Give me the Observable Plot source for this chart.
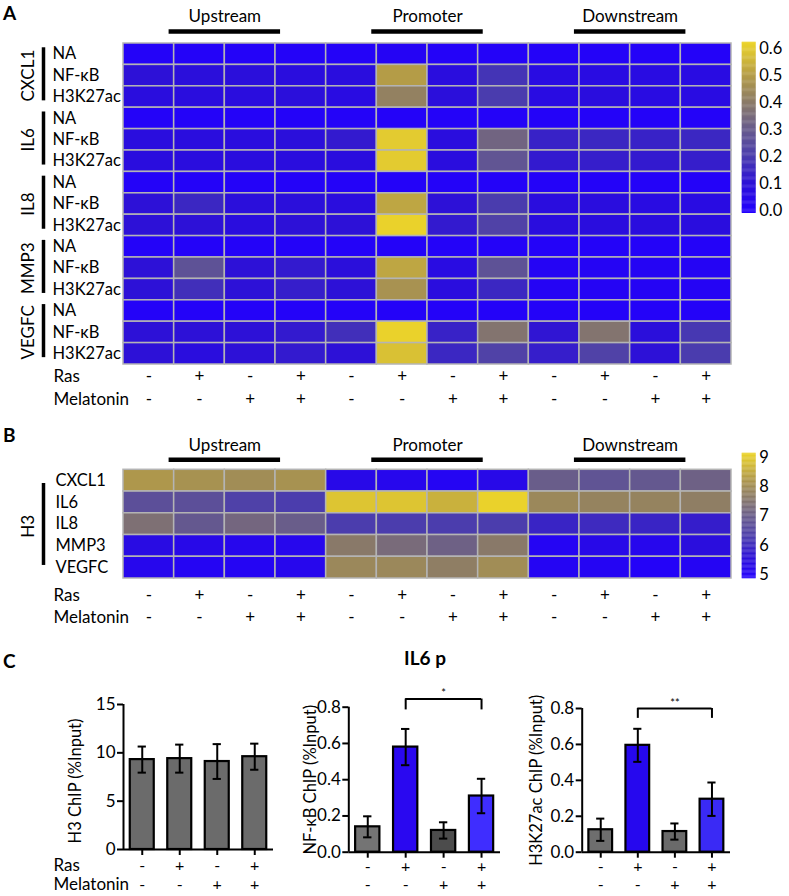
<!DOCTYPE html>
<html><head><meta charset="utf-8">
<script src="https://cdn.jsdelivr.net/npm/d3@7"></script>
<script src="https://cdn.jsdelivr.net/npm/@observablehq/plot@0.6"></script>
<style>
body{margin:0;background:#fff;}
#fig{position:relative;width:789px;height:896px;overflow:hidden;background:#fff;font-family:Lato,"Open Sans",sans-serif;color:#000;}
.plab{position:absolute;font-weight:bold;font-size:19px;line-height:19px;}
</style></head><body><div id="fig">
<div class="plab" style="left:3px;top:3px">A</div>
<div class="plab" style="left:3px;top:425px">B</div>
<div class="plab" style="left:3px;top:651px">C</div>
<div class="plab" style="left:380px;top:648px;width:90px;text-align:center">IL6 p</div>
</div>
<script>
// ---------------- data ----------------
const regions = ["Upstream", "Promoter", "Downstream"];
const rasSigns = ["-", "+", "-", "+"];
const melatoninSigns = ["-", "-", "+", "+"];
const genes = ["CXCL1", "IL6", "IL8", "MMP3", "VEGFC"];
const chipMarks = ["NA", "NF-κB", "H3K27ac"];

// Panel A values (%Input), 12 conditions each
const cxcl1NA      = [0.01,0.01,0.01,0.01,0.01,0.02,0.01,0.01,0.01,0.01,0.01,0.01];
const cxcl1NFkB    = [0.10,0.09,0.09,0.08,0.08,0.50,0.08,0.18,0.07,0.07,0.07,0.07];
const cxcl1H3K27ac = [0.08,0.08,0.08,0.09,0.07,0.42,0.09,0.20,0.07,0.08,0.07,0.07];
const il6NA        = [0.01,0.01,0.01,0.01,0.01,0.01,0.01,0.01,0.01,0.01,0.01,0.01];
const il6NFkB      = [0.08,0.08,0.08,0.09,0.12,0.60,0.08,0.33,0.14,0.15,0.14,0.15];
const il6H3K27ac   = [0.08,0.08,0.08,0.08,0.08,0.60,0.08,0.28,0.12,0.13,0.12,0.13];
const il8NA        = [0.01,0.01,0.01,0.01,0.01,0.01,0.01,0.01,0.01,0.01,0.01,0.01];
const il8NFkB      = [0.10,0.15,0.09,0.09,0.08,0.52,0.10,0.20,0.08,0.08,0.07,0.07];
const il8H3K27ac   = [0.10,0.10,0.08,0.10,0.10,0.62,0.12,0.22,0.08,0.08,0.08,0.08];
const mmp3NA       = [0.01,0.01,0.01,0.01,0.01,0.01,0.01,0.01,0.01,0.01,0.01,0.01];
const mmp3NFkB     = [0.10,0.27,0.10,0.12,0.09,0.52,0.07,0.27,0.02,0.02,0.02,0.02];
const mmp3H3K27ac  = [0.10,0.17,0.10,0.13,0.10,0.47,0.08,0.15,0.02,0.02,0.02,0.02];
const vegfcNA      = [0.01,0.01,0.01,0.01,0.01,0.01,0.01,0.01,0.01,0.01,0.01,0.01];
const vegfcNFkB    = [0.10,0.10,0.10,0.12,0.17,0.62,0.14,0.38,0.11,0.38,0.09,0.19];
const vegfcH3K27ac = [0.10,0.08,0.10,0.12,0.10,0.58,0.15,0.22,0.13,0.22,0.10,0.20];

// Panel B values (H3 ChIP)
const h3CXCL1 = [8.2,8.1,8.0,8.1,5.3,5.2,5.1,5.3,7.0,6.8,6.9,7.1];
const h3IL6   = [6.7,6.7,6.4,6.3,8.9,8.9,8.6,9.1,7.9,7.8,7.8,7.7];
const h3IL8   = [7.4,6.9,7.2,7.0,6.3,6.3,6.3,6.3,5.9,6.0,5.9,5.8];
const h3MMP3  = [5.4,5.3,5.2,5.2,7.6,7.3,7.1,7.6,5.1,5.3,5.2,5.5];
const h3VEGFC = [5.2,5.1,5.1,5.2,7.9,7.9,7.7,8.0,5.1,5.1,5.0,5.1];

// Panel C (IL6 promoter)
const h3Mean = [9.3, 9.4, 9.1, 9.6];
const h3Err = [1.35, 1.45, 1.8, 1.35];
const nfkbMean = [0.14, 0.58, 0.12, 0.31];
const nfkbErr = [0.058, 0.10, 0.045, 0.095];
const h3k27acMean = [0.125, 0.595, 0.115, 0.295];
const h3k27acErr = [0.062, 0.092, 0.045, 0.093];

// colour-bar tick labels
const ticksA = [0, 0.1, 0.2, 0.3, 0.4, 0.5, 0.6];
const ticksB = [5, 6, 7, 8, 9];

// ---------------- styles ----------------
const FONT = "Lato, 'Open Sans', sans-serif";
const domA = [-0.01, 0.624];
const domB = [4.87, 9.14];
const gradPos = [0, 0.17, 0.33, 0.49, 0.645, 0.8, 0.96, 1];
const gradCol = ["#2200ff","#2c10d8","#4a3cae","#675b8c","#8a7a68","#b39b48","#e2ca30","#ecd42a"];
const stopsA = gradPos.map(p => domA[0] + p * (domA[1] - domA[0]));
const stopsB = gradPos.map(p => domB[0] + p * (domB[1] - domB[0]));
const cellStroke = "#b4b4b4";
const baseStyle = {fontFamily: FONT, fontSize: "16px", background: "transparent", overflow: "visible", color: "#000"};
const T = {fontSize: 17, lineAnchor: "middle"};
const TR = {fontSize: 16.5, lineAnchor: "middle"};
const TC = {fontSize: 16, lineAnchor: "middle"};

const fig = document.getElementById("fig");
function place(el, left, top) {
  el.style.position = "absolute";
  el.style.left = left + "px";
  el.style.top = top + "px";
  fig.appendChild(el);
}

const conds = d3.range(12).map(i => ({col: i, ras: rasSigns[i % 4], mel: melatoninSigns[i % 4]}));
const groupInfo = regions.map((name, i) => ({name, mid: 4 * i + 2}));

function heatmap({rows, cells, groups, colorStops, height, mt, mb, labelDx, sideMarks, groupDy, barDy, rasDy, melDy}) {
  return Plot.plot({
    width: 789, height, marginLeft: 123, marginRight: 58, marginTop: mt, marginBottom: mb,
    x: {domain: [0, 12], axis: null},
    y: {domain: [0, rows.length], reverse: true, axis: null},
    color: {type: "linear", domain: colorStops, range: gradCol, interpolate: "rgb"},
    style: baseStyle,
    marks: [
      Plot.rect(cells, {x1: "col", x2: d => d.col + 1, y1: "row", y2: d => d.row + 1, fill: "v", stroke: cellStroke, strokeWidth: 1.5}),
      Plot.text(groups, {x: "mid", frameAnchor: "top", dy: groupDy, text: "name", textAnchor: "middle", ...T}),
      Plot.ruleY(groups, {y: () => 0, x1: d => d.mid - 1.1, x2: d => d.mid + 1.1, dy: barDy, stroke: "#000", strokeWidth: 4.5}),
      Plot.text(rows, {y: (d, i) => i + 0.5, frameAnchor: "left", dx: labelDx, textAnchor: "start", text: d => d.label, ...TR}),
      ...sideMarks,
      Plot.text(["Ras"], {frameAnchor: "bottom-left", dx: -70, dy: rasDy, textAnchor: "start", ...T}),
      Plot.text(["Melatonin"], {frameAnchor: "bottom-left", dx: -70, dy: melDy, textAnchor: "start", ...T}),
      Plot.text(conds, {x: d => d.col + 0.5, frameAnchor: "bottom", dy: rasDy, text: "ras", textAnchor: "middle", ...T}),
      Plot.text(conds, {x: d => d.col + 0.5, frameAnchor: "bottom", dy: melDy, text: "mel", textAnchor: "middle", ...T})
    ]
  });
}

function colorbar({domain, colorStops, ticks, fmt, height, mt, mb}) {
  const n = 150, step = (domain[1] - domain[0]) / n;
  const bins = d3.range(n).map(i => ({lo: domain[0] + i * step, hi: domain[0] + (i + 1) * step + step * 0.3}));
  return Plot.plot({
    width: 59, height, marginLeft: 11.7, marginRight: 33.3, marginTop: mt, marginBottom: mb,
    x: {domain: [0, 1], axis: null},
    y: {domain},
    color: {type: "linear", domain: colorStops, range: gradCol, interpolate: "rgb"},
    style: baseStyle,
    marks: [
      Plot.rect(bins, {x1: 0, x2: 1, y1: "lo", y2: d => Math.min(d.hi, domain[1]), fill: d => (d.lo + d.hi) / 2}),
      Plot.axisY(ticks, {anchor: "right", tickSize: 0, tickPadding: 3, tickFormat: fmt, fontSize: 16.5, label: null})
    ]
  });
}

// ---------- Panel A ----------
const aArrays = [
  [cxcl1NA, cxcl1NFkB, cxcl1H3K27ac],
  [il6NA, il6NFkB, il6H3K27ac],
  [il8NA, il8NFkB, il8H3K27ac],
  [mmp3NA, mmp3NFkB, mmp3H3K27ac],
  [vegfcNA, vegfcNFkB, vegfcH3K27ac]
];
const rowsA = [];
genes.forEach((g, gi) => chipMarks.forEach((m, mi) => rowsA.push({label: m, gene: g, values: aArrays[gi][mi]})));
const cellsA = rowsA.flatMap((r, ri) => r.values.map((v, ci) => ({row: ri, col: ci, v})));
const geneInfo = genes.map((g, i) => ({gene: g, start: 3 * i, end: 3 * i + 3}));

const plotA = heatmap({
  rows: rowsA, cells: cellsA, groups: groupInfo, colorStops: stopsA,
  height: 410, mt: 43, mb: 46, labelDx: -71, groupDy: -27, barDy: -12, rasDy: 12, melDy: 35,
  sideMarks: [
    Plot.ruleX(geneInfo, {x: () => 0, y1: d => d.start + 0.2, y2: d => d.end - 0.32, dx: -80, stroke: "#000", strokeWidth: 3.5}),
    Plot.text(geneInfo, {y: d => (d.start + d.end) / 2, frameAnchor: "left", dx: -95, rotate: -90, text: "gene", textAnchor: "middle", ...T})
  ]
});
place(plotA, 0, 0);
place(colorbar({domain: domA, colorStops: stopsA, ticks: ticksA, fmt: d3.format(".1f"), height: 230, mt: 41.7, mb: 17}), 730, 0);

// ---------- Panel B ----------
const bArrays = [h3CXCL1, h3IL6, h3IL8, h3MMP3, h3VEGFC];
const rowsB = genes.map((g, i) => ({label: g, values: bArrays[i]}));
const cellsB = rowsB.flatMap((r, ri) => r.values.map((v, ci) => ({row: ri, col: ci, v})));
const plotB = heatmap({
  rows: rowsB, cells: cellsB, groups: groupInfo, colorStops: stopsB,
  height: 210, mt: 49.3, mb: 52, labelDx: -68, groupDy: -24.3, barDy: -10, rasDy: 17, melDy: 39,
  sideMarks: [
    Plot.ruleX(["H3"], {x: () => 0, y1: () => 0.63, y2: () => 4.4, dx: -80, stroke: "#000", strokeWidth: 3.5}),
    Plot.text(["H3"], {y: () => 2.6, frameAnchor: "left", dx: -95, rotate: -90, textAnchor: "middle", ...T})
  ]
});
place(plotB, 0, 420);
place(colorbar({domain: domB, colorStops: stopsB, ticks: ticksB, fmt: d3.format("d"), height: 190, mt: 32.7, mb: 31.7}), 730, 420);

// ---------- Panel C ----------
function barChart({mean, err, colors, yMax, yTicks, fmt, title, width, ml, mr, mt, mb, titleDx, titleDy, sig, showLabels, rasDy, melDy}) {
  const bars = mean.map((m, i) => ({i, m, e: err[i], c: colors[i], ras: rasSigns[i], mel: melatoninSigns[i]}));
  const marks = [
    Plot.rectY(bars, {x1: d => d.i + 0.18, x2: d => d.i + 0.82, y: "m", fill: "c", stroke: "#000", strokeWidth: 2.2}),
    Plot.ruleX(bars, {x: d => d.i + 0.5, y1: d => d.m - d.e, y2: d => d.m + d.e, stroke: "#000", strokeWidth: 2}),
    Plot.ruleY(bars, {y: d => d.m + d.e, x1: d => d.i + 0.39, x2: d => d.i + 0.61, stroke: "#000", strokeWidth: 2}),
    Plot.ruleY(bars, {y: d => d.m - d.e, x1: d => d.i + 0.39, x2: d => d.i + 0.61, stroke: "#000", strokeWidth: 2}),
    Plot.ruleX([0], {stroke: "#000", strokeWidth: 2}),
    Plot.ruleY([0], {stroke: "#000", strokeWidth: 2}),
    Plot.axisY(yTicks, {anchor: "left", tickSize: 6, tickPadding: 2, tickFormat: fmt, fontSize: 17, strokeWidth: 2, label: null}),
    Plot.axisX(bars.map(d => d.i + 0.5), {anchor: "bottom", tickSize: 6, tickFormat: () => "", strokeWidth: 2, label: null}),
    Plot.text([title], {frameAnchor: "left", dx: titleDx, dy: titleDy, rotate: -90, textAnchor: "middle", fontSize: 16.5, lineAnchor: "middle"}),
    Plot.text(bars, {x: d => d.i + 0.5, frameAnchor: "bottom", dy: rasDy, text: "ras", textAnchor: "middle", ...TC}),
    Plot.text(bars, {x: d => d.i + 0.5, frameAnchor: "bottom", dy: melDy, text: "mel", textAnchor: "middle", ...TC})
  ];
  if (showLabels) {
    marks.push(Plot.text(["Ras"], {frameAnchor: "bottom-left", dx: -70, dy: rasDy, textAnchor: "start", ...T}));
    marks.push(Plot.text(["Melatonin"], {frameAnchor: "bottom-left", dx: -70, dy: melDy, textAnchor: "start", ...T}));
  }
  if (sig) {
    marks.push(Plot.ruleY([sig], {y: "top", x1: d => d.from + 0.5, x2: d => d.to + 0.5, stroke: "#000", strokeWidth: 2}));
    marks.push(Plot.ruleX([sig.from + 0.5, sig.to + 0.5], {x: d => d, y1: sig.leg, y2: sig.top, stroke: "#000", strokeWidth: 2}));
    marks.push(Plot.text([sig], {x: d => (d.from + d.to) / 2 + 0.5, y: "top", text: "label", dy: -2, fontSize: 11, lineAnchor: "bottom"}));
  }
  return Plot.plot({
    width, height: 216, marginLeft: ml, marginRight: mr, marginTop: mt, marginBottom: mb,
    x: {domain: [0, 4]},
    y: {domain: [0, yMax]},
    color: {type: "identity"},
    style: baseStyle,
    marks
  });
}

place(barChart({
  mean: h3Mean, err: h3Err, colors: ["#6b6b6b", "#6b6b6b", "#6b6b6b", "#6b6b6b"],
  yMax: 15, yTicks: [0, 5, 10, 15], fmt: d3.format("d"), title: "H3 ChIP (%Input)",
  width: 290, ml: 123, mr: 17, mt: 24, mb: 47, titleDx: -48, titleDy: 4, showLabels: true, rasDy: 16, melDy: 35
}), 0, 680);

place(barChart({
  mean: nfkbMean, err: nfkbErr, colors: ["#747474", "#2a08f0", "#4c4c4c", "#3f2dff"],
  yMax: 0.8, yTicks: [0, 0.2, 0.4, 0.6, 0.8], fmt: d3.format(".1f"), title: "NF-κB ChIP (%Input)",
  width: 230, ml: 58.3, mr: 20, mt: 26.7, mb: 44.3, titleDx: -38, titleDy: 0,
  sig: {from: 1, to: 3, top: 0.845, leg: 0.785, label: "*"}, rasDy: 15, melDy: 33
}), 290, 680);

place(barChart({
  mean: h3k27acMean, err: h3k27acErr, colors: ["#6e6e6e", "#2608ee", "#6a6a6a", "#3a2af5"],
  yMax: 0.8, yTicks: [0, 0.2, 0.4, 0.6, 0.8], fmt: d3.format(".1f"), title: "H3K27ac ChIP (%Input)",
  width: 269, ml: 61.7, mr: 59, mt: 28, mb: 44.3, titleDx: -45, titleDy: 0,
  sig: {from: 1, to: 3, top: 0.80, leg: 0.745, label: "**"}, rasDy: 15, melDy: 33
}), 520, 680);
</script>
</body></html>
